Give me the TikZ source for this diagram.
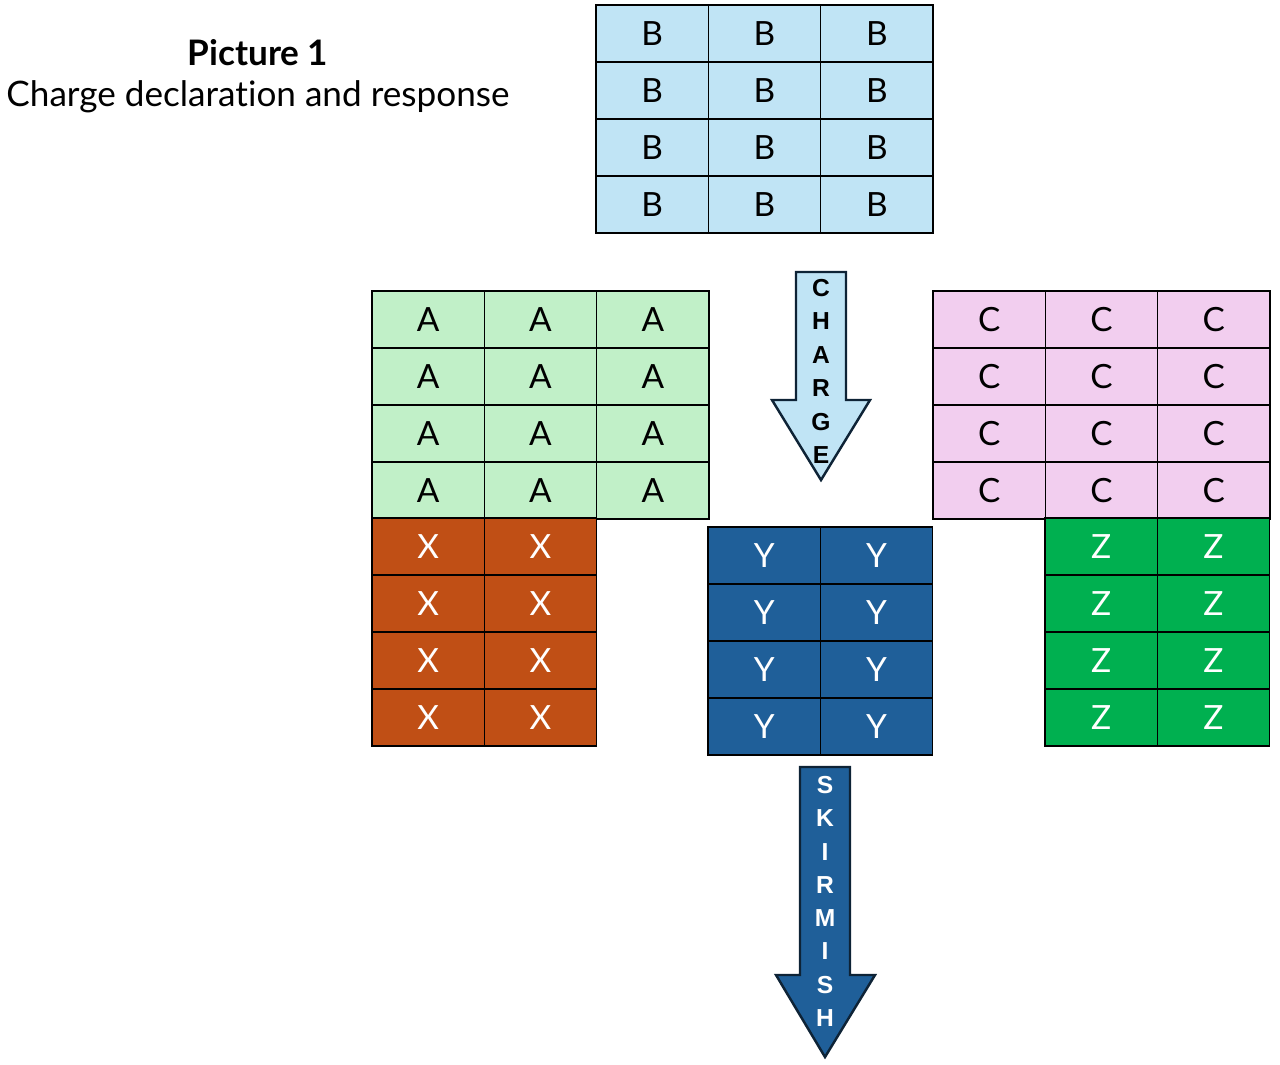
\documentclass[tikz,border=0pt]{standalone}
\usepackage{fontspec}
\setmainfont{Lato}[Ligatures=NoCommon]
\newfontfamily\arrowfont{Liberation Sans}
\usetikzlibrary{calc}
\definecolor{bcell}{HTML}{C0E4F5}
\definecolor{acell}{HTML}{C1F0C8}
\definecolor{ccell}{HTML}{F2CEEF}
\definecolor{xcell}{HTML}{C04F15}
\definecolor{ycell}{HTML}{1F5F99}
\definecolor{zcell}{HTML}{00B050}
\definecolor{arrline}{HTML}{0E2336}
\tikzset{
  unitcell/.style={draw=black,line width=0.85pt,minimum width=2.2467cm,
    minimum height=1.14cm,inner sep=0pt,outer sep=0pt,font=\fontsize{19}{22}\selectfont},
  arrletter/.style={font=\arrowfont\bfseries\fontsize{14}{16}\selectfont,inner sep=0pt}
}
\begin{document}
\begin{tikzpicture}[x=0.02cm,y=-0.02cm]
  \useasboundingbox (0,0) rectangle (1280,1064);
  % title
  \node[font=\bfseries\fontsize{20}{24}\selectfont] (title) at (258,53) {Picture 1};
  \node[font=\fontsize{20}{24}\selectfont] (subtitle) at (258,97) {Charge declaration and response};
  % blocks: name/left/top/columns/fill/text colour
  \foreach \blk/\lft/\tp/\ncol/\fcol/\tcol in
    {B/596/5/3/bcell/black, A/372/291/3/acell/black, C/933/291/3/ccell/black,
     X/372/518/2/xcell/white, Y/708/527/2/ycell/white, Z/1045/518/2/zcell/white}{
    \foreach \j in {1,...,4}{
      \foreach \i in {1,...,\ncol}{
        \node[unitcell,fill=\fcol,text=\tcol] (\blk-\j-\i)
          at ({\lft+(\i-0.5)*112.33},{\tp+(\j-0.5)*57}) {\blk};
      }
    }
  }
  % charge arrow
  \draw[arrline,line width=1.4pt,line join=miter,fill=bcell]
    (796,272) -- (846,272) -- (846,400) -- (870,400) -- (821,480)
    -- (772,400) -- (796,400) -- cycle;
  \foreach \ch [count=\k from 0] in {C,H,A,R,G,E}
    \node[arrletter] (charge-\k) at (821,{288+\k*33.4}) {\ch};
  % skirmish arrow
  \draw[arrline,line width=1.4pt,line join=miter,fill=ycell]
    (800,767) -- (850,767) -- (850,975) -- (875,975) -- (825,1057)
    -- (776,975) -- (800,975) -- cycle;
  \foreach \ch [count=\k from 0] in {S,K,I,R,M,I,S,H}
    \node[arrletter,text=white] (skirmish-\k) at (825,{785+\k*33.3}) {\ch};
\end{tikzpicture}
\end{document}
